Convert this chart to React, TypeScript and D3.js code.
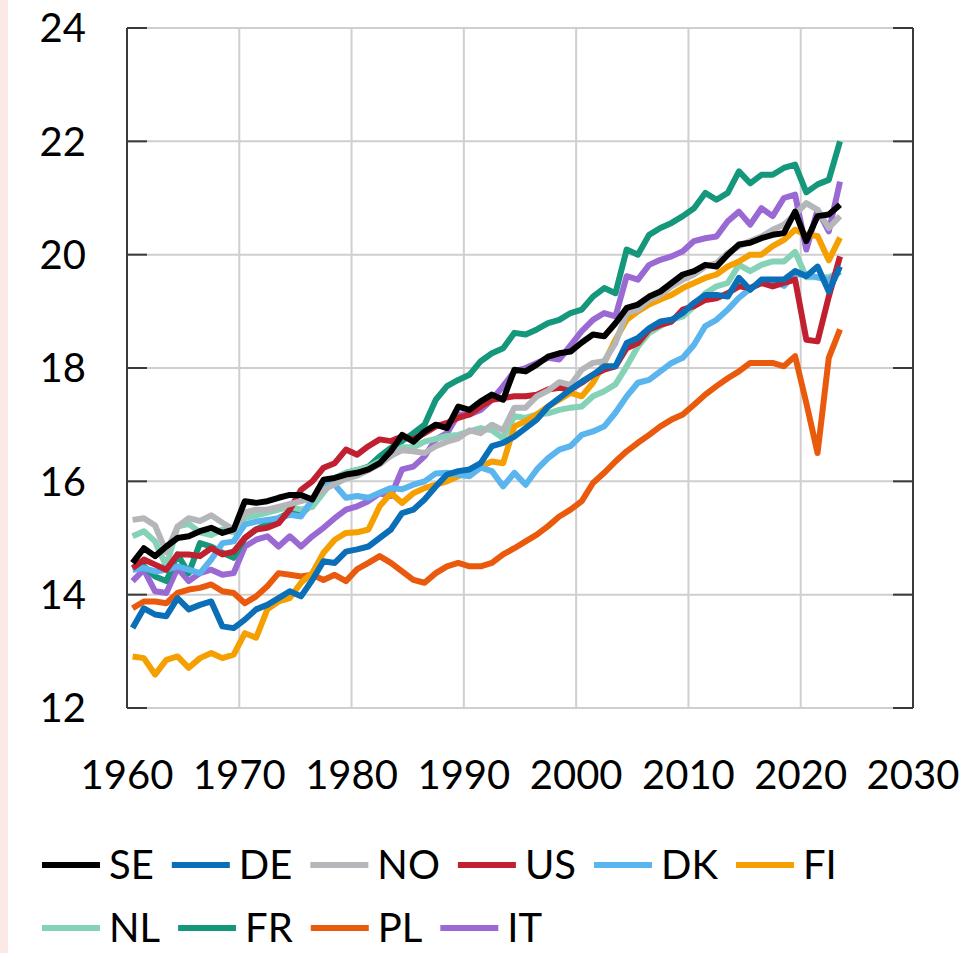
import React, { useEffect, useRef } from "react";
import * as d3 from "d3";

// yearly values, 1960-2023 (drawn at mid-year)
const years = d3.range(1960, 2024);

const SE = [
  14.56, 14.82, 14.68, 14.85, 15.0, 15.03, 15.12, 15.18, 15.09, 15.15,
  15.65, 15.62, 15.65, 15.71, 15.76, 15.76, 15.68, 16.03, 16.06, 16.12,
  16.15, 16.21, 16.32, 16.53, 16.82, 16.7, 16.88, 17.0, 16.94, 17.32,
  17.26, 17.41, 17.53, 17.44, 17.97, 17.94, 18.06, 18.2, 18.26, 18.29,
  18.45, 18.59, 18.56, 18.79, 19.06, 19.12, 19.26, 19.35, 19.5, 19.65,
  19.71, 19.82, 19.79, 20.0, 20.18, 20.21, 20.29, 20.35, 20.38, 20.76,
  20.24, 20.68, 20.71, 20.88,
];
const DE = [
  13.41, 13.76, 13.65, 13.62, 13.94, 13.74, 13.82, 13.88, 13.44, 13.41,
  13.56, 13.74, 13.82, 13.94, 14.06, 13.97, 14.26, 14.59, 14.56, 14.76,
  14.8, 14.85, 15.0, 15.15, 15.44, 15.5, 15.68, 15.91, 16.12, 16.18,
  16.21, 16.32, 16.62, 16.68, 16.79, 16.94, 17.09, 17.32, 17.47, 17.62,
  17.76, 17.88, 18.03, 18.03, 18.44, 18.53, 18.7, 18.82, 18.85, 18.97,
  19.15, 19.29, 19.29, 19.26, 19.59, 19.38, 19.56, 19.56, 19.56, 19.71,
  19.62, 19.79, 19.35, 19.79,
];
const NO = [
  15.32, 15.35, 15.22, 14.75, 15.2, 15.35, 15.3, 15.4, 15.27, 15.15,
  15.45, 15.5, 15.5, 15.55, 15.6, 15.65, 15.7, 15.85, 15.95, 16.05,
  16.1, 16.2, 16.3, 16.45, 16.55, 16.53, 16.5, 16.62, 16.7, 16.76,
  16.9, 16.85, 17.0, 16.9, 17.3, 17.3, 17.5, 17.6, 17.75, 17.7,
  17.97, 18.09, 18.12, 18.44, 18.97, 19.03, 19.2, 19.29, 19.44, 19.56,
  19.65, 19.79, 19.85, 20.03, 20.15, 20.24, 20.32, 20.44, 20.53, 20.71,
  20.91, 20.79, 20.47, 20.68,
];
const US = [
  14.47, 14.62, 14.53, 14.44, 14.71, 14.71, 14.68, 14.82, 14.71, 14.76,
  15.0, 15.15, 15.18, 15.26, 15.5, 15.85, 16.0, 16.24, 16.32, 16.56,
  16.47, 16.62, 16.74, 16.71, 16.79, 16.74, 16.85, 16.97, 17.03, 17.12,
  17.18, 17.32, 17.44, 17.47, 17.5, 17.5, 17.53, 17.62, 17.65, 17.62,
  17.74, 17.88, 17.97, 18.03, 18.35, 18.44, 18.68, 18.76, 18.82, 19.03,
  19.09, 19.2, 19.23, 19.32, 19.44, 19.41, 19.5, 19.44, 19.5, 19.56,
  18.5, 18.47, 19.26, 19.97,
];
const DK = [
  14.44, 14.47, 14.41, 14.44, 14.5, 14.44, 14.38, 14.62, 14.91, 14.94,
  15.24, 15.29, 15.32, 15.35, 15.41, 15.38, 15.68, 15.97, 15.94, 15.71,
  15.74, 15.71, 15.8, 15.88, 15.86, 15.94, 16.0, 16.14, 16.15, 16.12,
  16.09, 16.24, 16.18, 15.91, 16.15, 15.94, 16.21, 16.41, 16.56, 16.62,
  16.82, 16.88, 16.97, 17.21, 17.5, 17.74, 17.79, 17.94, 18.09, 18.18,
  18.41, 18.74, 18.85, 19.03, 19.24, 19.4, 19.5, 19.55, 19.45, 19.65,
  19.65, 19.6, 19.55, 19.7,
];
const FI = [
  12.91, 12.88, 12.59, 12.85, 12.91, 12.71, 12.88, 12.97, 12.88, 12.94,
  13.32, 13.24, 13.74, 13.88, 13.94, 14.21, 14.38, 14.74, 14.97, 15.09,
  15.1, 15.15, 15.56, 15.79, 15.62, 15.79, 15.88, 15.94, 16.0, 16.09,
  16.15, 16.26, 16.35, 16.32, 16.97, 17.06, 17.18, 17.32, 17.44, 17.56,
  17.5, 17.74, 18.09, 18.5, 18.85, 19.0, 19.12, 19.21, 19.29, 19.41,
  19.5, 19.59, 19.65, 19.79, 19.88, 20.0, 20.0, 20.15, 20.26, 20.44,
  20.35, 20.33, 19.9, 20.3,
];
const NL = [
  15.03, 15.12, 14.94, 14.5, 15.2, 15.25, 15.1, 15.05, 15.15, 15.1,
  15.35, 15.4, 15.45, 15.5, 15.55, 15.5, 15.55, 15.8, 16.05, 16.15,
  16.2, 16.25, 16.35, 16.45, 16.6, 16.6, 16.7, 16.75, 16.8, 16.82,
  16.88, 16.94, 16.9, 16.76, 17.15, 17.12, 17.18, 17.2, 17.26, 17.3,
  17.32, 17.5, 17.59, 17.71, 18.03, 18.38, 18.62, 18.74, 18.85, 18.91,
  19.09, 19.32, 19.44, 19.5, 19.82, 19.71, 19.82, 19.88, 19.88, 20.05,
  19.6, 19.6, 19.6, 19.7,
];
const FR = [
  14.47, 14.5, 14.32, 14.24, 14.71, 14.38, 14.91, 14.85, 14.74, 14.65,
  15.0, 15.15, 15.25, 15.35, 15.45, 15.42, 15.6, 15.9, 16.05, 16.15,
  16.2, 16.26, 16.44, 16.59, 16.71, 16.85, 17.0, 17.44, 17.68, 17.79,
  17.88, 18.12, 18.26, 18.35, 18.62, 18.59, 18.68, 18.79, 18.85, 18.97,
  19.03, 19.26, 19.41, 19.32, 20.09, 20.0, 20.35, 20.47, 20.56, 20.68,
  20.82, 21.09, 20.97, 21.09, 21.47, 21.26, 21.41, 21.41, 21.53, 21.59,
  21.1, 21.24, 21.32, 22.0,
];
const PL = [
  13.76, 13.88, 13.88, 13.85, 14.03, 14.09, 14.12, 14.18, 14.06, 14.03,
  13.85, 13.97, 14.15, 14.38, 14.35, 14.32, 14.35, 14.26, 14.35, 14.24,
  14.45, 14.56, 14.68, 14.56, 14.41, 14.26, 14.21, 14.38, 14.5, 14.56,
  14.5, 14.5, 14.56, 14.71, 14.82, 14.94, 15.06, 15.21, 15.38, 15.5,
  15.65, 15.97, 16.15, 16.35, 16.53, 16.68, 16.82, 16.97, 17.09, 17.18,
  17.35, 17.53, 17.68, 17.82, 17.94, 18.09, 18.09, 18.09, 18.03, 18.21,
  17.38, 16.5, 18.18, 18.68,
];
const IT = [
  14.24, 14.44, 14.06, 14.03, 14.47, 14.24, 14.38, 14.44, 14.35, 14.38,
  14.85, 14.97, 15.03, 14.85, 15.03, 14.85, 15.03, 15.18, 15.35, 15.5,
  15.56, 15.65, 15.79, 15.74, 16.21, 16.26, 16.44, 16.74, 16.85, 17.18,
  17.18, 17.26, 17.44, 17.68, 17.94, 18.0, 18.09, 18.18, 18.15, 18.4,
  18.65, 18.85, 18.97, 18.91, 19.62, 19.56, 19.82, 19.91, 19.97, 20.06,
  20.24, 20.29, 20.32, 20.59, 20.76, 20.53, 20.82, 20.68, 21.0, 21.06,
  20.09, 20.79, 20.41, 21.29,
];

const countries = ["SE", "DE", "NO", "US", "DK", "FI", "NL", "FR", "PL", "IT"];
const values = [SE, DE, NO, US, DK, FI, NL, FR, PL, IT];
const colors = [
  "#000000", "#0b6fb8", "#b4b6ba", "#c0202f", "#5ab4ee",
  "#f5a000", "#85d2b6", "#14977b", "#e95a0c", "#9b69d4",
];
const legendRows = [["SE", "DE", "NO", "US", "DK", "FI"], ["NL", "FR", "PL", "IT"]];

const yTicks = [12, 14, 16, 18, 20, 22, 24];
const xTicks = [1960, 1970, 1980, 1990, 2000, 2010, 2020, 2030];

const font = "Lato, 'Open Sans', sans-serif";

export default function App() {
  const ref = useRef<SVGSVGElement>(null);

  useEffect(() => {
    const svg = d3.select(ref.current);
    svg.selectAll("*").remove();

    const left = 127, right = 913, top = 28, bottom = 708;
    const x = d3.scaleLinear().domain([1960, 2030]).range([left, right]);
    const y = d3.scaleLinear().domain([12, 24]).range([bottom, top]);

    svg.append("rect").attr("width", 966).attr("height", 953).attr("fill", "#fff");
    svg.append("rect").attr("width", 8).attr("height", 953).attr("fill", "#fde8e8");

    // grid
    svg.append("g")
      .selectAll("line")
      .data(yTicks)
      .join("line")
      .attr("x1", left).attr("x2", right)
      .attr("y1", d => y(d)).attr("y2", d => y(d))
      .attr("stroke", "#cfcfcf").attr("stroke-width", 2);
    svg.append("g")
      .selectAll("line")
      .data(xTicks)
      .join("line")
      .attr("x1", d => x(d)).attr("x2", d => x(d))
      .attr("y1", top).attr("y2", bottom)
      .attr("stroke", "#cfcfcf").attr("stroke-width", 2);

    // left / right axes with inward ticks
    const axisColor = "#3a3a3a";
    [left, right].forEach(ax => {
      svg.append("line")
        .attr("x1", ax).attr("x2", ax).attr("y1", top).attr("y2", bottom)
        .attr("stroke", axisColor).attr("stroke-width", 2);
      const dir = ax === left ? 1 : -1;
      svg.append("g")
        .selectAll("line")
        .data(yTicks)
        .join("line")
        .attr("x1", ax).attr("x2", ax + dir * 20)
        .attr("y1", d => y(d)).attr("y2", d => y(d))
        .attr("stroke", axisColor).attr("stroke-width", 2);
    });

    // tick labels
    svg.append("g")
      .selectAll("text")
      .data(yTicks)
      .join("text")
      .attr("x", 86)
      .attr("y", d => y(d))
      .attr("dy", "0.36em")
      .attr("text-anchor", "end")
      .style("font-family", font)
      .style("font-size", "40px")
      .text(d => d);
    svg.append("g")
      .selectAll("text")
      .data(xTicks)
      .join("text")
      .attr("x", d => x(d))
      .attr("y", 775)
      .attr("dy", "0.36em")
      .attr("text-anchor", "middle")
      .style("font-family", font)
      .style("font-size", "40px")
      .text(d => d);

    // series, drawn last-to-first so SE sits on top
    const line = d3.line<number>()
      .x((_, i) => x(years[i] + 0.5))
      .y(d => y(d));
    const order = d3.range(countries.length).reverse();
    svg.append("g")
      .selectAll("path")
      .data(order)
      .join("path")
      .attr("d", i => line(values[i]))
      .attr("fill", "none")
      .attr("stroke", i => colors[i])
      .attr("stroke-width", 6)
      .attr("stroke-linejoin", "round");

    // legend
    const rowY = [865, 928];
    legendRows.forEach((row, r) => {
      let cx = 42;
      row.forEach(name => {
        const i = countries.indexOf(name);
        const g = svg.append("g");
        g.append("line")
          .attr("x1", cx).attr("x2", cx + 58)
          .attr("y1", rowY[r]).attr("y2", rowY[r])
          .attr("stroke", colors[i]).attr("stroke-width", 6);
        const t = g.append("text")
          .attr("x", cx + 67)
          .attr("y", rowY[r])
          .attr("dy", "0.36em")
          .style("font-family", font)
          .style("font-size", "40px")
          .text(name);
        const w = (t.node() as SVGTextElement).getComputedTextLength();
        cx += 67 + w + 18;
      });
    });
  }, []);

  return (
    <svg
      ref={ref}
      width={966}
      height={953}
      style={{ position: "absolute", left: 0, top: 0 }}
    />
  );
}
